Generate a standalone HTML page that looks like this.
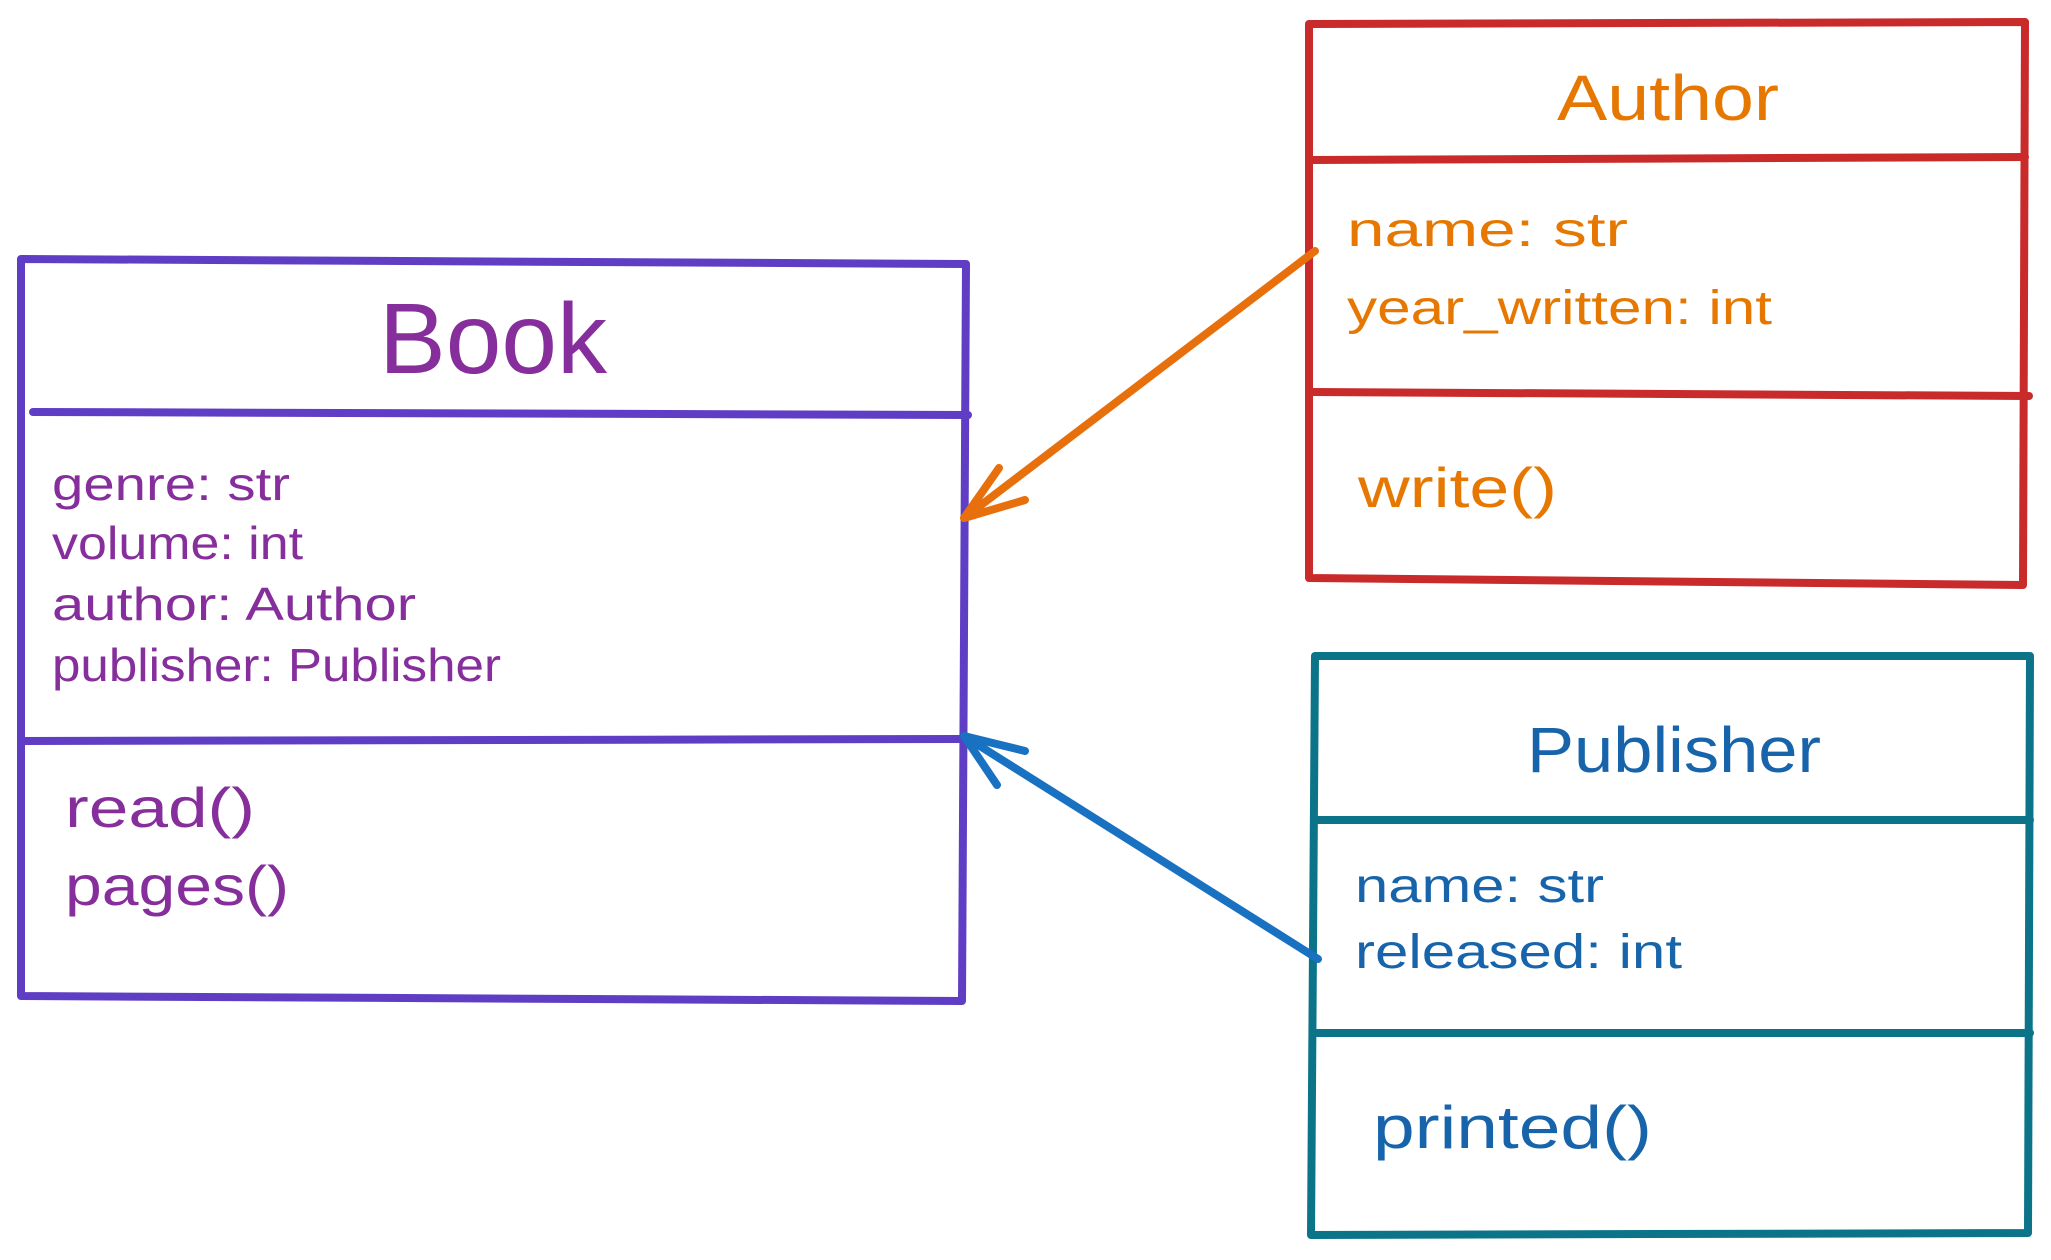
<!DOCTYPE html>
<html><head><meta charset="utf-8"><style>
html,body{margin:0;padding:0;background:#fff;}
svg{display:block}
text{font-family:"Liberation Sans",sans-serif;}
</style></head><body>
<svg width="2051" height="1260" viewBox="0 0 2051 1260" xmlns="http://www.w3.org/2000/svg">
<g fill="none" stroke-linecap="round" stroke-linejoin="round" stroke-width="8">
<g stroke="#5f3dc4">
<path d="M21 259 L966 264 L962 1001 L21 996 Z"/>
<path d="M33 412 L968 415"/>
<path d="M21 741 L962 739"/>
</g>
<g stroke="#c92a2a">
<path d="M1309 24 L2025 22 L2023 585 L1309 578 Z"/>
<path d="M1311 160 L2025 157"/>
<path d="M1311 392 L2029 396"/>
</g>
<g stroke="#0c7489">
<path d="M1315 656 L2030 656 L2028 1233 L1311 1235 Z"/>
<path d="M1317 820 L2030 820"/>
<path d="M1317 1033 L2030 1033"/>
</g>
<g stroke="#e8700c">
<path d="M1315 251 L964 518"/>
<path d="M999 468 L964 518 L1025 500"/>
</g>
<g stroke="#1971c2">
<path d="M1318 959 L964 736"/>
<path d="M1025 751 L964 736 L997 785"/>
</g>
</g>
<g fill="#862e9c" lengthAdjust="spacingAndGlyphs">
<text x="379" y="373" font-size="100" textLength="228" lengthAdjust="spacingAndGlyphs">Book</text>
<text x="52" y="500" font-size="46" textLength="238" lengthAdjust="spacingAndGlyphs">genre: str</text>
<text x="52" y="559" font-size="46" textLength="251" lengthAdjust="spacingAndGlyphs">volume: int</text>
<text x="52" y="620" font-size="46" textLength="364" lengthAdjust="spacingAndGlyphs">author: Author</text>
<text x="52" y="681" font-size="46" textLength="449" lengthAdjust="spacingAndGlyphs">publisher: Publisher</text>
<text x="65" y="827" font-size="56" textLength="190" lengthAdjust="spacingAndGlyphs">read()</text>
<text x="65" y="905" font-size="56" textLength="224" lengthAdjust="spacingAndGlyphs">pages()</text>
</g>
<g fill="#e67700">
<text x="1557" y="120" font-size="64" textLength="222" lengthAdjust="spacingAndGlyphs">Author</text>
<text x="1347" y="246" font-size="48" textLength="281" lengthAdjust="spacingAndGlyphs">name: str</text>
<text x="1347" y="324" font-size="48" textLength="425" lengthAdjust="spacingAndGlyphs">year_written: int</text>
<text x="1358" y="507" font-size="56" textLength="199" lengthAdjust="spacingAndGlyphs">write()</text>
</g>
<g fill="#1864ab">
<text x="1527" y="772" font-size="64" textLength="294" lengthAdjust="spacingAndGlyphs">Publisher</text>
<text x="1355" y="902" font-size="48" textLength="249" lengthAdjust="spacingAndGlyphs">name: str</text>
<text x="1355" y="968" font-size="48" textLength="327" lengthAdjust="spacingAndGlyphs">released: int</text>
<text x="1373" y="1148" font-size="60" textLength="279" lengthAdjust="spacingAndGlyphs">printed()</text>
</g>
</svg>
</body></html>
